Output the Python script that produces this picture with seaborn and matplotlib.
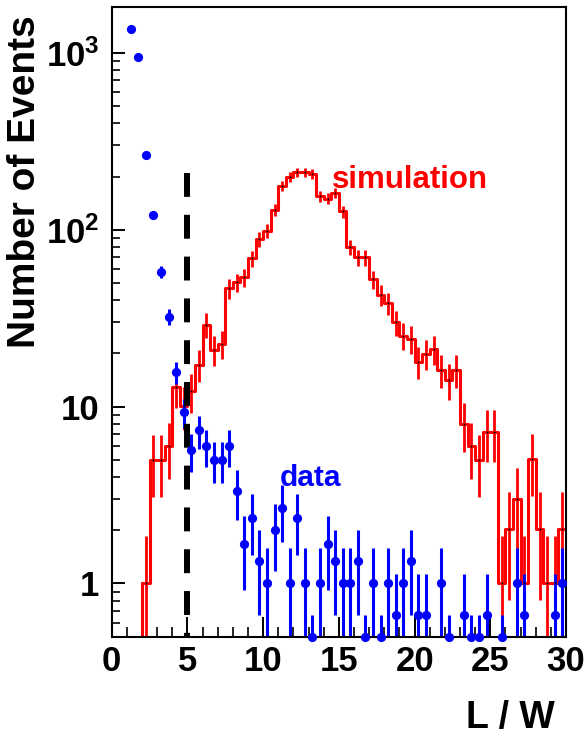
import numpy as np
import pandas as pd
import matplotlib
matplotlib.use('Agg')
import matplotlib.pyplot as plt
import seaborn as sns
from matplotlib.ticker import FixedLocator, LogLocator, MultipleLocator, FuncFormatter, NullFormatter

# simulation: content of 0.5 wide L/W bins, first bin starts at L/W = 2
sim_start = 2.0
bin_width = 0.5
sim_values = [1.0, 5.0, 5.0, 6.0, 13.0, 10.1, 12.2, 17.3, 29.0, 21.0,
              22.7, 46.8, 50.4, 54.0, 69.0, 88.6, 98.7, 130.0, 178.0, 199.0,
              212.0, 212.0, 207.0, 155.0, 150.0, 162.0, 127.0, 80.0, 70.0, 70.0,
              52.6, 43.0, 38.5, 30.0, 25.2, 24.2, 18.0, 19.9, 21.2, 16.2,
              14.1, 16.2, 8.0, 6.0, 5.0, 7.2, 7.2, 1.0, 2.04, 3.0,
              1.0, 5.06, 2.04, 1.0, 1.0, 2.04]
sim_weight = 0.75   # per-event weight of the scaled simulation

# data: raw counts per 0.5 bin, first bin starts at L/W = 1, shown scaled by 1/3
data_start = 1.0
data_counts = [4080, 2860, 795, 366, 174, 97, 47, 28, 17, 22,
               18, 15, 15, 18, 10, 5, 7, 4, 3, 6,
               8, 3, 7, 3, 1, 3, 5, 4, 3, 3,
               4, 1, 3, 1, 3, 2, 3, 4, 2, 2,
               0, 3, 1, 0, 2, 1, 1, 2, 0, 1,
               0, 3, 2, 0, 0, 0, 2, 3]
data_scale = 1.0 / 3.0

cut_value = 5.0
cut_top = 210.0
y_low, y_high = 0.5, 1820.0

sns.set_theme(style='white')
plt.rcParams['font.family'] = ['Liberation Sans', 'DejaVu Sans']
plt.rcParams['font.weight'] = 'bold'
plt.rcParams['mathtext.fontset'] = 'custom'
plt.rcParams['mathtext.rm'] = 'Liberation Sans:bold'
plt.rcParams['mathtext.bf'] = 'Liberation Sans:bold'
plt.rcParams['mathtext.it'] = 'Liberation Sans:bold'

sim_values = np.array(sim_values)
sim_edges = sim_start + bin_width * np.arange(len(sim_values) + 1)
sim_centers = sim_edges[:-1] + bin_width / 2
sim_err = np.sqrt(sim_values * sim_weight)
sim = pd.DataFrame({'lw': sim_centers, 'n': sim_values})

counts = np.array(data_counts, dtype=float)
data_centers = data_start + bin_width * (np.arange(len(counts)) + 0.5)
keep = counts > 0
dx = data_centers[keep]
dv = counts[keep] * data_scale
de = np.sqrt(counts[keep]) * data_scale
dy = np.maximum(dv, y_low)
lo = dy - (dv - de)
hi = dv + de - dy

fig = plt.figure(figsize=(5.84, 7.40), dpi=100)
ax = fig.add_axes([0.1913, 0.1396, 0.7779, 0.8509])

sns.histplot(data=sim, x='lw', weights='n', binwidth=bin_width,
             binrange=(float(sim_edges[0]), float(sim_edges[-1])), element='step',
             fill=False, color='#ff0000', linewidth=2.2, ax=ax)
ax.plot([sim_edges[0], sim_edges[0]], [1e-3, sim_values[0]], color='#ff0000', lw=2.2)
ax.errorbar(sim_centers, sim_values, yerr=sim_err, fmt='none', ecolor='#ff0000', elinewidth=2.0)
ax.plot(sim_centers, sim_values, '+', color='black', ms=2, mew=0.6, zorder=4)

ax.errorbar(dx, dy, yerr=[lo, hi], xerr=bin_width / 2, fmt='none', ecolor='#0000ff', elinewidth=2.2)
sns.scatterplot(x=dx, y=dy, color='#0000ff', s=44, marker='o', linewidth=0, clip_on=False, zorder=5, ax=ax)

ax.plot([cut_value, cut_value], [cut_top, y_low], color='black', lw=4.3, dashes=(4, 3))

ax.set_yscale('log')
ax.set_xlim(0, 30)
ax.set_ylim(y_low, y_high)
ax.set_xlabel('')
ax.set_ylabel('')

ax.xaxis.set_major_locator(MultipleLocator(5))
ax.xaxis.set_minor_locator(MultipleLocator(1))
ax.yaxis.set_major_locator(FixedLocator([1, 10, 100, 1000]))
ax.yaxis.set_minor_locator(LogLocator(base=10, subs=range(2, 10)))
ax.yaxis.set_minor_formatter(NullFormatter())
ax.yaxis.set_major_formatter(FuncFormatter(
    lambda v, p: {1: '1', 10: '10', 100: r'$10^{2}$', 1000: r'$10^{3}$'}.get(int(round(v)), '')))

ax.tick_params(axis='x', which='major', direction='in', length=14.5, width=1.4, pad=6,
               labelsize=25, bottom=True, top=False, colors='black')
ax.tick_params(axis='x', which='minor', direction='in', length=7, width=1.4, bottom=True, top=False)
ax.tick_params(axis='y', which='major', direction='in', length=9.5, width=1.4, pad=9,
               labelsize=25, left=True, right=False, colors='black')
ax.tick_params(axis='y', which='minor', direction='in', length=6, width=1.4, left=True, right=False)
for lab in ax.get_xticklabels() + ax.get_yticklabels():
    lab.set_fontweight('bold')

for s in ax.spines.values():
    s.set_color('black')
    s.set_linewidth(1.5)
ax.grid(False)

ax.text(14.55, 172, 'simulation', color='#ff0000', fontsize=22.5, fontweight='bold', ha='left', va='baseline')
ax.text(11.12, 3.58, 'data', color='#0000ff', fontsize=21.5, fontweight='bold', ha='left', va='baseline')

fig.text(0.043, 0.980, 'Number of Events', rotation=90, ha='center', va='top',
         fontsize=28, fontweight='bold', color='black')
fig.text(0.950, 0.006, 'L / W', ha='right', va='bottom', fontsize=27, fontweight='bold',
         color='black')

fig.savefig('out.png', dpi=100)
